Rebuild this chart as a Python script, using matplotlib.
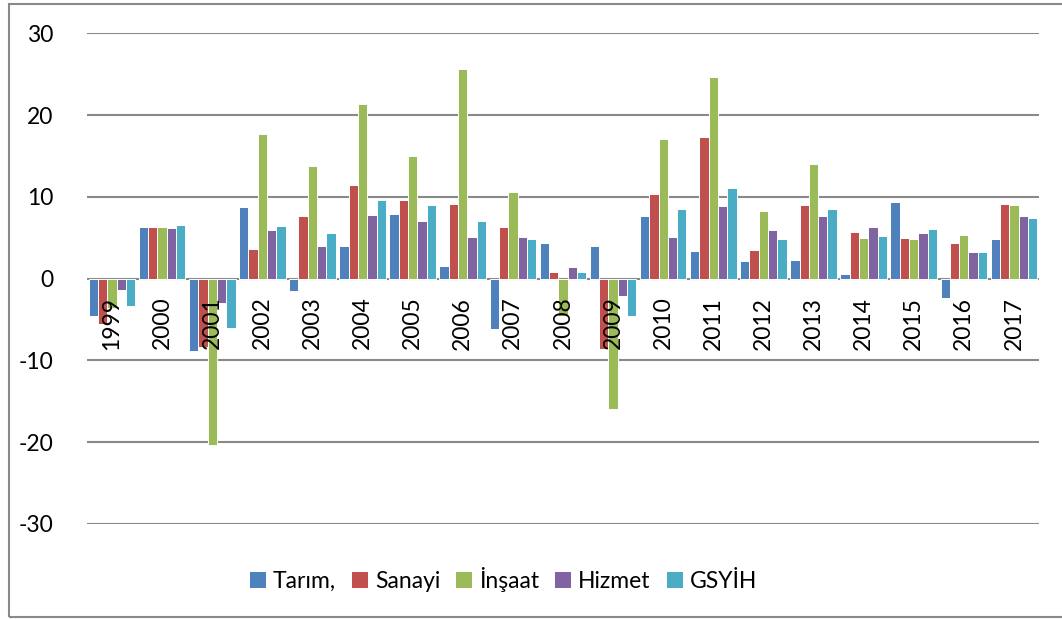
import numpy as np
import matplotlib.pyplot as plt
from matplotlib.patches import Rectangle

plt.rcParams['font.family'] = ['Lato', 'DejaVu Sans']
plt.rcParams['axes.unicode_minus'] = False

# ====================== DATA ======================
years = [str(y) for y in range(1999, 2018)]

tarim = [-4.6, 6.35, -8.9, 8.7, -1.5, 4.0, 7.9, 1.5, -6.2, 4.4,
         4.0, 7.7, 3.4, 2.2, 2.3, 0.6, 9.4, -2.4, 4.9]
sanayi = [-5.5, 6.35, -8.4, 3.6, 7.7, 11.5, 9.6, 9.1, 6.3, 0.8,
          -8.6, 10.3, 17.3, 3.5, 9.0, 5.7, 5.0, 4.3, 9.1]
insaat = [-3.6, 6.35, -20.3, 17.7, 13.8, 21.3, 15.0, 25.6, 10.6, -4.6,
          -15.9, 17.1, 24.6, 8.3, 14.0, 5.0, 4.9, 5.3, 9.0]
hizmet = [-1.4, 6.15, -3.0, 6.0, 4.0, 7.8, 7.1, 5.1, 5.1, 1.4,
          -2.1, 5.1, 8.9, 5.9, 7.6, 6.3, 5.6, 3.2, 7.6]
gsyih = [-3.4, 6.6, -6.0, 6.4, 5.6, 9.6, 9.0, 7.1, 4.9, 0.8,
         -4.6, 8.5, 11.1, 4.8, 8.5, 5.2, 6.1, 3.2, 7.4]

series = [tarim, sanayi, insaat, hizmet, gsyih]
labels = ['Tarım,', 'Sanayi', 'İnşaat', 'Hizmet', 'GSYİH']
colors = ['#4F81BD', '#C0504D', '#9BBB59', '#8064A2', '#4BACC6']

# ====================== PLOT ======================
fig = plt.figure(figsize=(10.62, 6.19), dpi=100)
ax = fig.add_axes([0.0819, 0.1535, 0.8964, 0.7927])

x = np.arange(len(years))
w = 0.186
for k, (vals, lab, col) in enumerate(zip(series, labels, colors)):
    ax.bar(x + (k - 2) * w, vals, width=w, color=col, edgecolor='white',
           linewidth=0.7, label=lab, zorder=3)

ax.set_xlim(-0.5, len(years) - 0.5)
ax.set_ylim(-30, 30)
ax.set_yticks(range(-30, 31, 10))
ax.set_xticks([])
ax.yaxis.grid(True, color='#898989', linewidth=1.5, zorder=1)
ax.set_axisbelow(True)
for s in ax.spines.values():
    s.set_visible(False)
ax.tick_params(axis='y', length=0, pad=24, labelsize=16.5)

# year labels sit just below the zero line
for xi, yr in zip(x, years):
    ax.text(xi, -2.2, yr, rotation=90, ha='center', va='top', fontsize=16.5,
            zorder=4)

# chart frame
fig.patches.append(Rectangle((9 / 1062, 2 / 619), 1.1, 613 / 619,
                             transform=fig.transFigure, fill=False,
                             edgecolor='#898989', linewidth=1.5))

fig.legend(loc='center', bbox_to_anchor=(503 / 1062, 0.0646), ncol=5,
           frameon=False, fontsize=16.5, handlelength=0.75, handleheight=0.75,
           handletextpad=0.3, columnspacing=0.65)

fig.savefig('out.png', dpi=100)
